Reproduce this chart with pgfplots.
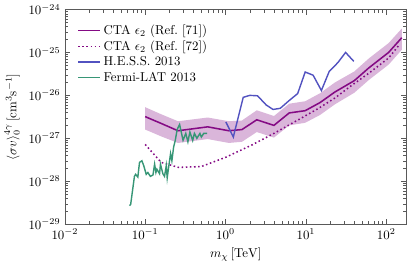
\documentclass[border=0pt]{standalone}
\usepackage{pgfplots}
\pgfplotsset{compat=1.18}
\usepgfplotslibrary{fillbetween}
\definecolor{ctapurple}{RGB}{132,10,132}
\definecolor{ctaband}{RGB}{218,182,218}
\definecolor{hessblue}{RGB}{82,82,192}
\definecolor{fermigreen}{RGB}{55,150,118}
\begin{document}
\begin{tikzpicture}
\begin{axis}[
  scale only axis,
  width=266pt, height=167pt,
  xmode=log, ymode=log,
  xmin=0.01, xmax=180,
  ymin=1e-29, ymax=1e-24,
  xtick={1e-2,1e-1,1,10,100},
  ytick={1e-29,1e-28,1e-27,1e-26,1e-25,1e-24},
  axis line style={black!65},
  tick style={black!65},
  xlabel={$m_\chi\,[\mathrm{TeV}]$},
  ylabel={$\langle\sigma v\rangle_0^{4\gamma}\,[\mathrm{cm}^3\mathrm{s}^{-1}]$},
  legend style={draw=none, fill=none, at={(0.025,0.955)}, anchor=north west, row sep=-0.5pt},
  legend cell align=left,
]
% CTA band
\addplot[name path=hi, draw=none, forget plot] coordinates {
(0.1,5.3e-27) (0.16,3.6e-27) (0.256,2.5e-27) (0.6,3.05e-27) (1.1,2.5e-27) (1.6,2.6e-27)
(2.45,4.5e-27) (4.0,3.3e-27) (6.2,6.4e-27) (9.8,7.3e-27) (15,1.12e-26) (23,2.0e-26)
(40,3.6e-26) (61,7.3e-26) (107,1.65e-25) (156,3.6e-25)};
\addplot[name path=lo, draw=none, forget plot] coordinates {
(0.1,1.6e-27) (0.16,1.1e-27) (0.256,7.8e-28) (0.6,9.6e-28) (1.1,7.8e-28) (1.6,8.3e-28)
(2.45,1.4e-27) (4.0,1.04e-27) (6.2,2.0e-27) (9.8,2.3e-27) (15,3.5e-27) (23,6.2e-27)
(40,1.15e-26) (61,2.3e-26) (107,5.2e-26) (156,1.15e-25)};
\addplot[ctaband, forget plot] fill between[of=hi and lo];
% CTA Ref 71
\addplot[ctapurple, line width=1.2pt] coordinates {
(0.1,3.2e-27) (0.16,2.2e-27) (0.256,1.5e-27) (0.6,1.85e-27) (1.1,1.5e-27) (1.6,1.6e-27)
(2.45,2.7e-27) (4.0,2.0e-27) (6.2,3.9e-27) (9.8,4.4e-27) (15,6.8e-27) (23,1.2e-26)
(40,2.2e-26) (61,4.4e-26) (107,1.0e-25) (156,2.2e-25)};
\addlegendentry{CTA $\epsilon_2$ (Ref.~[71])}
% CTA Ref 72
\addplot[ctapurple, line width=1.2pt, dotted] coordinates {
(0.1,7.2e-28) (0.158,2.75e-28) (0.26,2.1e-28) (0.5,2.2e-28) (1.0,3.6e-28) (2.1,6.9e-28)
(4.0,1.3e-27) (8.9,3.0e-27) (14.4,5.0e-27) (23,8.7e-27) (37.6,1.74e-26) (61,3.3e-26)
(107,7.4e-26) (145,1.5e-25)};
\addlegendentry{CTA $\epsilon_2$ (Ref.~[72])}
% HESS
\addplot[hessblue, line width=1.1pt] coordinates {
(1.01,2.4e-27) (1.25,1.07e-27) (1.66,9e-27) (2.0,1e-26) (2.5,9.8e-27) (3.2,6e-27)
(3.9,4.7e-27) (4.8,5e-27) (6.2,7.6e-27) (7.9,1.1e-26) (9.8,3.5e-26) (12.3,2.95e-26)
(15.6,1.3e-26) (19.5,3.6e-26) (25,5.8e-26) (31.2,1e-25) (39.5,6.2e-26)};
\addlegendentry{H.E.S.S. 2013}
% Fermi
\addplot[fermigreen, line width=1.1pt] coordinates {
(0.0637,2.7e-29) (0.066,2.9e-29) (0.0735,1.3e-28) (0.076,1.45e-28) (0.081,1.25e-28)
(0.085,2.75e-28) (0.091,3.0e-28) (0.096,2.3e-28) (0.103,1.45e-28) (0.108,1.6e-28)
(0.116,1.3e-28) (0.125,1.4e-28) (0.131,2.5e-28) (0.136,1.6e-28) (0.14,1.9e-28)
(0.151,1.5e-28) (0.155,2.5e-28) (0.166,1.5e-28) (0.174,1.3e-28) (0.183,2.3e-28)
(0.188,1.2e-28) (0.197,2.3e-28) (0.207,4.4e-28) (0.215,3.0e-28) (0.226,6.3e-28)
(0.237,9e-28) (0.25,1.6e-27) (0.268,2.1e-27) (0.296,9e-28) (0.32,1.3e-27)
(0.34,8.3e-28) (0.36,1.4e-27) (0.39,8.9e-28) (0.41,1.3e-27) (0.44,1e-27)
(0.48,1.3e-27) (0.50,1.07e-27) (0.535,1.3e-27) (0.59,1.3e-27)};
\addlegendentry{Fermi-LAT 2013}
\end{axis}
\path (current bounding box.south) ++(0,-4pt);
\end{tikzpicture}
\end{document}
